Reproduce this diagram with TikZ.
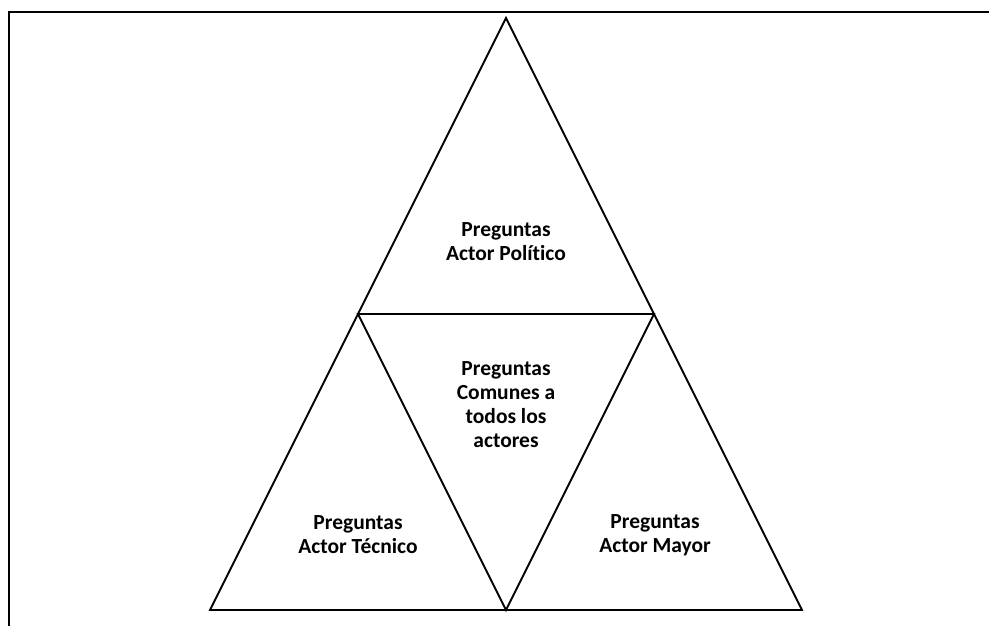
\documentclass[tikz,border=0pt]{standalone}
\usepackage{fontspec}
\setmainfont{Carlito}[Ligatures=NoCommon]
\usetikzlibrary{positioning}
\tikzset{
  trilabel/.style={font=\fontsize{21.5}{24}\selectfont\bfseries, align=center, inner sep=0pt},
  triline/.style={draw, line width=1.8pt, line join=miter},
  frameline/.style={draw, line width=2.6pt},
}

\begin{document}
\begin{tikzpicture}[x=1pt, y=-1pt]
  \useasboundingbox (0,0) rectangle (989,626);
  % marco
  \draw[frameline] (989,12) -- (9,12) -- (9,626);
  % vértices
  \coordinate (apex) at (506,18);
  \coordinate (bl) at (210,610);
  \coordinate (br) at (802,610);
  \coordinate (ml) at (358,314);
  \coordinate (mr) at (654,314);
  \coordinate (mb) at (506,610);
  % triángulo exterior y triángulo central
  \draw[triline] (apex) -- (br) -- (bl) -- cycle;
  \draw[triline] (ml) -- (mr) -- (mb) -- cycle;
  % textos
  \node[trilabel] (politico) at (506,242) {Preguntas\\Actor Político};
  \node[trilabel] (comunes) at (506,405) {Preguntas\\Comunes a\\todos los\\actores};
  \node[trilabel] (tecnico) at (358,535) {Preguntas\\Actor Técnico};
  \node[trilabel] (mayor) at (655,535) {Preguntas\\Actor Mayor};
\end{tikzpicture}
\end{document}
